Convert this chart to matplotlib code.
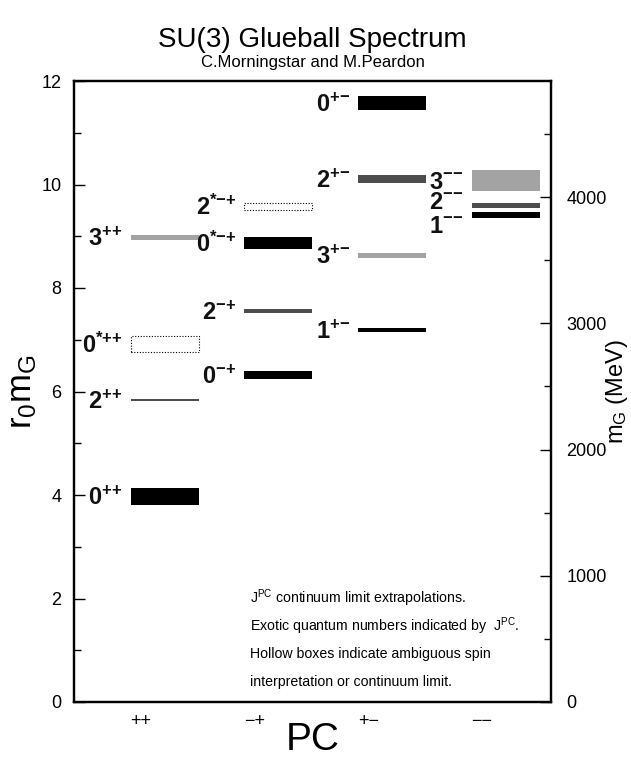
import matplotlib
matplotlib.use("Agg")
import matplotlib.pyplot as plt
from matplotlib import ticker

plt.rcParams['font.family'] = ['Liberation Sans', 'DejaVu Sans']
plt.rcParams['mathtext.fontset'] = 'custom'
plt.rcParams['mathtext.rm'] = 'Liberation Sans'
plt.rcParams['mathtext.it'] = 'Liberation Sans:italic'
plt.rcParams['mathtext.bf'] = 'Liberation Sans:bold'

# PC channels along the x axis
channels = ['++', '\u2212+', '+\u2212', '\u2212\u2212']

# glueball states: label, channel index, r0*mG (centre), half band, hollow box?
state_labels = [r'0^{{+}{+}}', r'2^{{+}{+}}', r'0^{*{+}{+}}', r'3^{{+}{+}}',
                r'0^{{-}{+}}', r'2^{{-}{+}}', r'0^{*{-}{+}}', r'2^{*{-}{+}}',
                r'1^{{+}{-}}', r'3^{{+}{-}}', r'2^{{+}{-}}', r'0^{{+}{-}}',
                r'1^{{-}{-}}', r'2^{{-}{-}}', r'3^{{-}{-}}']
state_J = [0, 2, 0, 3, 0, 2, 0, 2, 1, 3, 2, 0, 1, 2, 3]
state_chan = [0, 0, 0, 0, 1, 1, 1, 1, 2, 2, 2, 2, 3, 3, 3]
state_mass = [3.97, 5.83, 6.92, 8.98, 6.32, 7.55, 8.87, 9.57,
              7.19, 8.63, 10.10, 11.57, 9.41, 9.60, 10.08]
state_err = [0.16, 0.02, 0.155, 0.05, 0.08, 0.035, 0.12, 0.07,
             0.04, 0.055, 0.075, 0.135, 0.065, 0.05, 0.20]
state_hollow = [False, False, True, False, False, False, False, True,
                False, False, False, False, False, False, False]

r0_inv = 410.0  # MeV
mev_ticks = [0, 1000, 2000, 3000, 4000]

notes = [r'J$^{\rm PC}$ continuum limit extrapolations.',
         r'Exotic quantum numbers indicated by  J$^{\rm PC}$.',
         'Hollow boxes indicate ambiguous spin',
         'interpretation or continuum limit.']

shade = {0: 'black', 1: 'black', 2: '#4d4d4d', 3: '#a3a3a3'}
# vertical nudges (points) for crowded labels in the -- column
label_nudge = {12: -6.5, 13: 3.5}

fig = plt.figure(figsize=(6.31, 7.59), dpi=100)
ax = fig.add_axes([74/631, 1 - 702/759, 477/631, 621/759])

bar_w = 0.6
for i in range(len(state_labels)):
    x0 = state_chan[i] + 1 - 0.09
    lo = state_mass[i] - state_err[i]
    h = 2 * state_err[i]
    if state_hollow[i]:
        ax.bar(x0, h, bottom=lo, width=bar_w, align='edge', facecolor='none',
               edgecolor='black', linestyle=(0, (1, 1.5)), linewidth=0.8)
    else:
        ax.bar(x0, h, bottom=lo, width=bar_w, align='edge',
               color=shade[state_J[i]], linewidth=0)
    dy = label_nudge.get(i, 0)
    ax.annotate(r'$\mathbf{' + state_labels[i] + '}$',
                xy=(x0, state_mass[i]), xytext=(-6, -6.2 + dy),
                textcoords='offset points', ha='right', va='baseline',
                fontsize=17, color='#111111')

ax.set_xlim(0.41, 4.61)
ax.set_ylim(0, 12)
ax.set_xticks(range(1, 5))
ax.set_xticklabels(channels, fontsize=13)
ax.tick_params(axis='x', length=0, pad=8)
ax.yaxis.set_major_locator(ticker.MultipleLocator(2))
ax.yaxis.set_minor_locator(ticker.MultipleLocator(1))
ax.tick_params(axis='y', which='both', direction='in', right=False,
               labelsize=13, pad=9)
ax.tick_params(axis='y', which='major', length=8, width=1)
ax.tick_params(axis='y', which='minor', length=5, width=1)
for s in ax.spines.values():
    s.set_linewidth(1.6)

ax.set_xlabel('PC', fontsize=28, labelpad=-6)
ax.set_ylabel(r'$\mathrm{r_0m_G}$', fontsize=25, labelpad=2)

ax2 = ax.twinx()
ax2.set_ylim(0, 12 * r0_inv)
ax2.set_yticks(mev_ticks)
ax2.yaxis.set_minor_locator(ticker.MultipleLocator(500))
ax2.tick_params(axis='y', which='both', direction='in', labelsize=13, pad=11)
ax2.tick_params(axis='y', which='major', length=8, width=1)
ax2.tick_params(axis='y', which='minor', length=5, width=1)
ax2.set_ylabel(r'$\mathrm{m_G}$ (MeV)', fontsize=17, labelpad=-2)
for s in ax2.spines.values():
    s.set_linewidth(1.6)

for k, line in enumerate(notes):
    ax.text(1.96, 2.0 - k * 0.54, line, fontsize=10.2, ha='left', va='center')

cx = (74 + 551) / 2 / 631
fig.text(cx, 1 - 40/759, 'SU(3) Glueball Spectrum', fontsize=20,
         ha='center', va='center')
fig.text(cx, 1 - 62/759, 'C.Morningstar and M.Peardon', fontsize=12,
         ha='center', va='center')

fig.savefig('out.png', dpi=100)
